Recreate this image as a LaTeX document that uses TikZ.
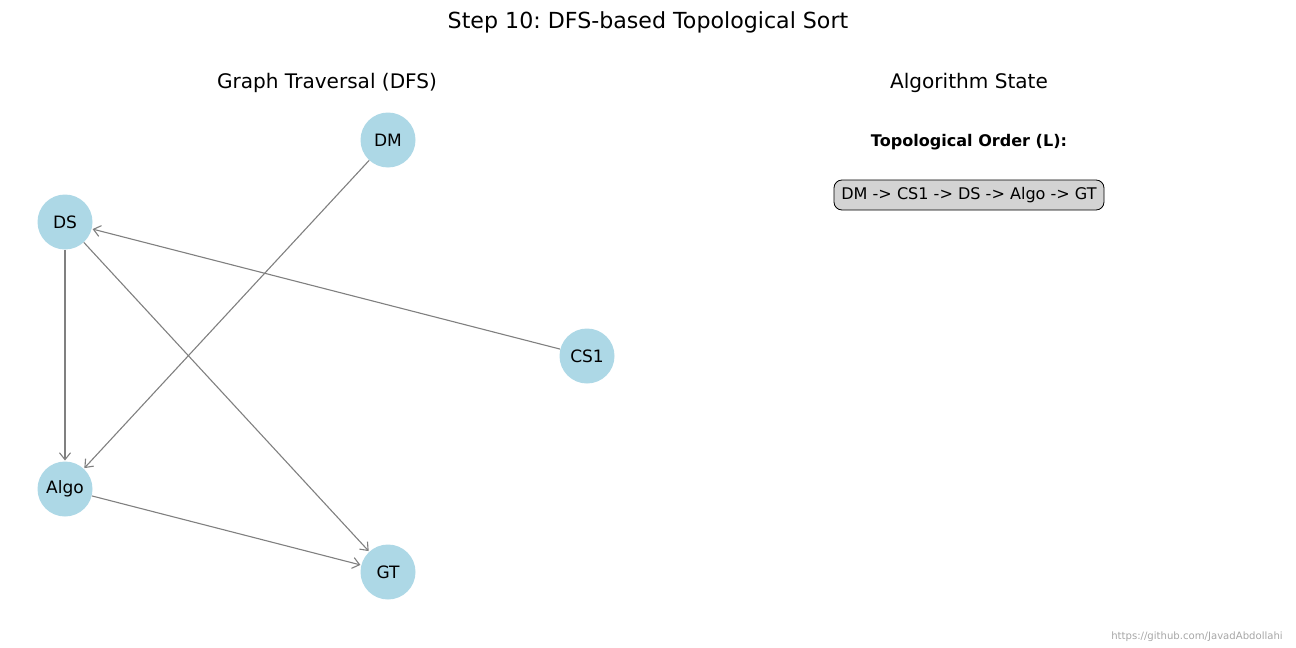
\documentclass[tikz,border=0pt]{standalone}
\usepackage{fontspec}
\setmainfont{DejaVu Sans}
\usetikzlibrary{arrows.meta}
\frenchspacing
\definecolor{nodeblue}{HTML}{ADD8E6}
\definecolor{boxgray}{HTML}{D3D3D3}
\newdimen\pxu
\pxu=0.72bp
\tikzset{
  vert/.style={circle, fill=nodeblue, minimum size=55\pxu, inner sep=0pt, font=\fontsize{12.3}{14}\selectfont},
  edge/.style={draw=gray, line width=0.8pt, -{Straight Barb[length=5pt,width=8pt]}, shorten >=0.5pt},
  ttl/.style={font=\fontsize{16}{19}\selectfont},
  subttl/.style={font=\fontsize{14.5}{17}\selectfont},
}
\begin{document}
\begin{tikzpicture}[x=0.72bp, y=-0.72bp]
\useasboundingbox (0,0) rectangle (1296,648);
\node[ttl] (title) at (648,22) {Step 10: DFS-based Topological Sort};
\node[subttl] (lt) at (327,83) {Graph Traversal (DFS)};
\node[subttl] (rt) at (969,83) {Algorithm State};
\node (DM) [vert] at (388,140) {DM};
\node (DS) [vert] at (65,222) {DS};
\node (CS1) [vert] at (587,356) {CS1};
\node (Algo) [vert] at (65,489) {Algo};
\node (GT) [vert] at (388,572) {GT};
\draw[edge] (DS) -- (Algo);
\draw[edge] (DS) -- (GT);
\draw[edge] (DM) -- (Algo);
\draw[edge] (CS1) -- (DS);
\draw[edge] (Algo) -- (GT);
\node[font=\bfseries\fontsize{11.6}{13}\selectfont] (tol) at (969,142) {Topological Order (L):};
\node[draw=black, fill=boxgray, rounded corners=8\pxu, line width=0.6pt, minimum width=270\pxu, minimum height=30\pxu, inner sep=0pt, font=\fontsize{11.6}{13}\selectfont] (order) at (969,195) {DM -> CS1 -> DS -> Algo -> GT};
\node[text=gray!70, font=\fontsize{7.3}{8}\selectfont, anchor=east, inner sep=0pt] (url) at (1283,637) {https://github.com/JavadAbdollahi};
\end{tikzpicture}
\end{document}
